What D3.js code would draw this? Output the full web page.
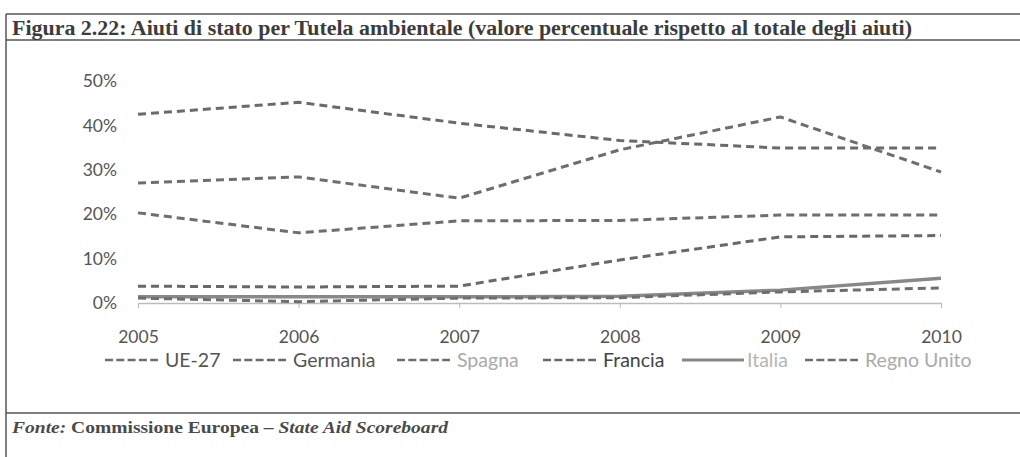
<!DOCTYPE html>
<html>
<head>
<meta charset="utf-8">
<script src="https://cdn.jsdelivr.net/npm/d3@7"></script>
<style>
  body { margin: 0; background: #fff; }
  svg { display: block; }
</style>
</head>
<body>
<div id="chart"></div>
<script>
// Data (percent of total state aid)
const years = [2005, 2006, 2007, 2008, 2009, 2010];
const yTicks = [0, 10, 20, 30, 40, 50];
const seriesNames = ["UE-27", "Germania", "Spagna", "Francia", "Italia", "Regno Unito"];
const ue27 = [20.3, 15.8, 18.5, 18.6, 19.8, 19.8];
const germania = [42.5, 45.2, 40.5, 36.6, 34.9, 34.9];
const spagna = [1.1, 0.3, 1.1, 1.2, 2.5, 3.4];
const francia = [3.8, 3.6, 3.8, 9.7, 14.9, 15.2];
const italia = [1.4, 1.4, 1.4, 1.5, 2.9, 5.6];
const regnoUnito = [27.0, 28.4, 23.6, 34.5, 41.9, 29.5];

const width = 1020, height = 457;

const svg = d3.select("#chart")
    .append("svg")
    .attr("width", width)
    .attr("height", height);

// frame of the figure box
svg.append("line").attr("x1", 6).attr("x2", 6).attr("y1", 14).attr("y2", height)
    .attr("stroke", "#555").attr("stroke-width", 1.5);
[14, 40, 413].forEach(y => {
    svg.append("line").attr("x1", 6).attr("x2", width).attr("y1", y).attr("y2", y)
        .attr("stroke", "#555").attr("stroke-width", 1.5);
});

// title
svg.append("text")
    .attr("x", 12).attr("y", 35)
    .attr("font-family", "'Liberation Serif', serif")
    .attr("font-weight", "bold")
    .attr("font-size", 20)
    .attr("fill", "#3c3c3c")
    .attr("textLength", 900)
    .attr("lengthAdjust", "spacingAndGlyphs")
    .text("Figura 2.22: Aiuti di stato per Tutela ambientale (valore percentuale rispetto al totale degli aiuti)");

// source note
const src = svg.append("text")
    .attr("x", 12).attr("y", 433)
    .attr("font-family", "'Liberation Serif', serif")
    .attr("font-weight", "bold")
    .attr("font-size", 16)
    .attr("fill", "#4a4a4a")
    .attr("textLength", 436)
    .attr("lengthAdjust", "spacingAndGlyphs");
src.append("tspan").attr("font-style", "italic").text("Fonte:");
src.append("tspan").text(" Commissione Europea – ");
src.append("tspan").attr("font-style", "italic").text("State Aid Scoreboard");

// scales
const x = d3.scalePoint().domain(years).range([138, 941]);
const y = d3.scaleLinear().domain([0, 50]).range([303, 81]);

const font = "Lato, 'Open Sans', sans-serif";

// y axis labels (no axis line)
const yAxis = svg.append("g")
    .attr("transform", "translate(117,0)")
    .call(d3.axisLeft(y).tickValues(yTicks).tickSize(0).tickPadding(0).tickFormat(d => d + "%"));
yAxis.select(".domain").remove();
yAxis.selectAll("text")
    .attr("font-family", font).attr("font-size", 17.5).attr("fill", "#555");

// x axis: light baseline with ticks hanging down
const xAxis = svg.append("g")
    .attr("transform", `translate(0,${y(0)})`)
    .call(d3.axisBottom(x).tickSize(5).tickSizeOuter(0).tickPadding(23));
xAxis.select(".domain").attr("stroke", "#bbb").attr("stroke-width", 1.5);
xAxis.selectAll(".tick line").attr("stroke", "#bbb");
xAxis.selectAll("text")
    .attr("font-family", font).attr("font-size", 17.5).attr("fill", "#555");

const seriesData = [ue27, germania, spagna, francia, italia, regnoUnito];
const styles = [
    { stroke: "#6e6e6e", dash: "8,5", width: 3, text: "#555" },
    { stroke: "#6a6a6a", dash: "8,5", width: 3, text: "#555" },
    { stroke: "#6e6e6e", dash: "8,5", width: 3, text: "#aaa" },
    { stroke: "#686868", dash: "8,5", width: 3, text: "#444" },
    { stroke: "#888", dash: null, width: 3.5, text: "#b5b5b5" },
    { stroke: "#6e6e6e", dash: "8,5", width: 3, text: "#aaa" }
];

const line = d3.line()
    .x((d, i) => x(years[i]))
    .y(d => y(d));

// draw Italia first so dashed lines sit on top of it
const order = [4, 0, 1, 2, 3, 5];
svg.append("g").selectAll("path")
    .data(order)
    .join("path")
    .attr("d", i => line(seriesData[i]))
    .attr("fill", "none")
    .attr("stroke", i => styles[i].stroke)
    .attr("stroke-width", i => styles[i].width)
    .attr("stroke-dasharray", i => styles[i].dash)
    .attr("stroke-linejoin", "round");

// legend
const legendX = [105, 233, 397, 543, 682, 805];
const legend = svg.append("g").selectAll("g")
    .data(seriesNames)
    .join("g")
    .attr("transform", (d, i) => `translate(${legendX[i]},360)`);

legend.append("line")
    .attr("x1", 0).attr("x2", (d, i) => styles[i].dash ? 53 : 62)
    .attr("y1", 0).attr("y2", 0)
    .attr("stroke", (d, i) => styles[i].stroke)
    .attr("stroke-width", (d, i) => styles[i].dash ? 2.5 : 3)
    .attr("stroke-dasharray", (d, i) => styles[i].dash ? "8,3.3" : null);

legend.append("text")
    .attr("x", (d, i) => styles[i].dash ? 60 : 65)
    .attr("y", 0)
    .attr("dy", "0.35em")
    .attr("font-family", font)
    .attr("font-size", 19.5)
    .attr("fill", (d, i) => styles[i].text)
    .text(d => d);
</script>
</body>
</html>
